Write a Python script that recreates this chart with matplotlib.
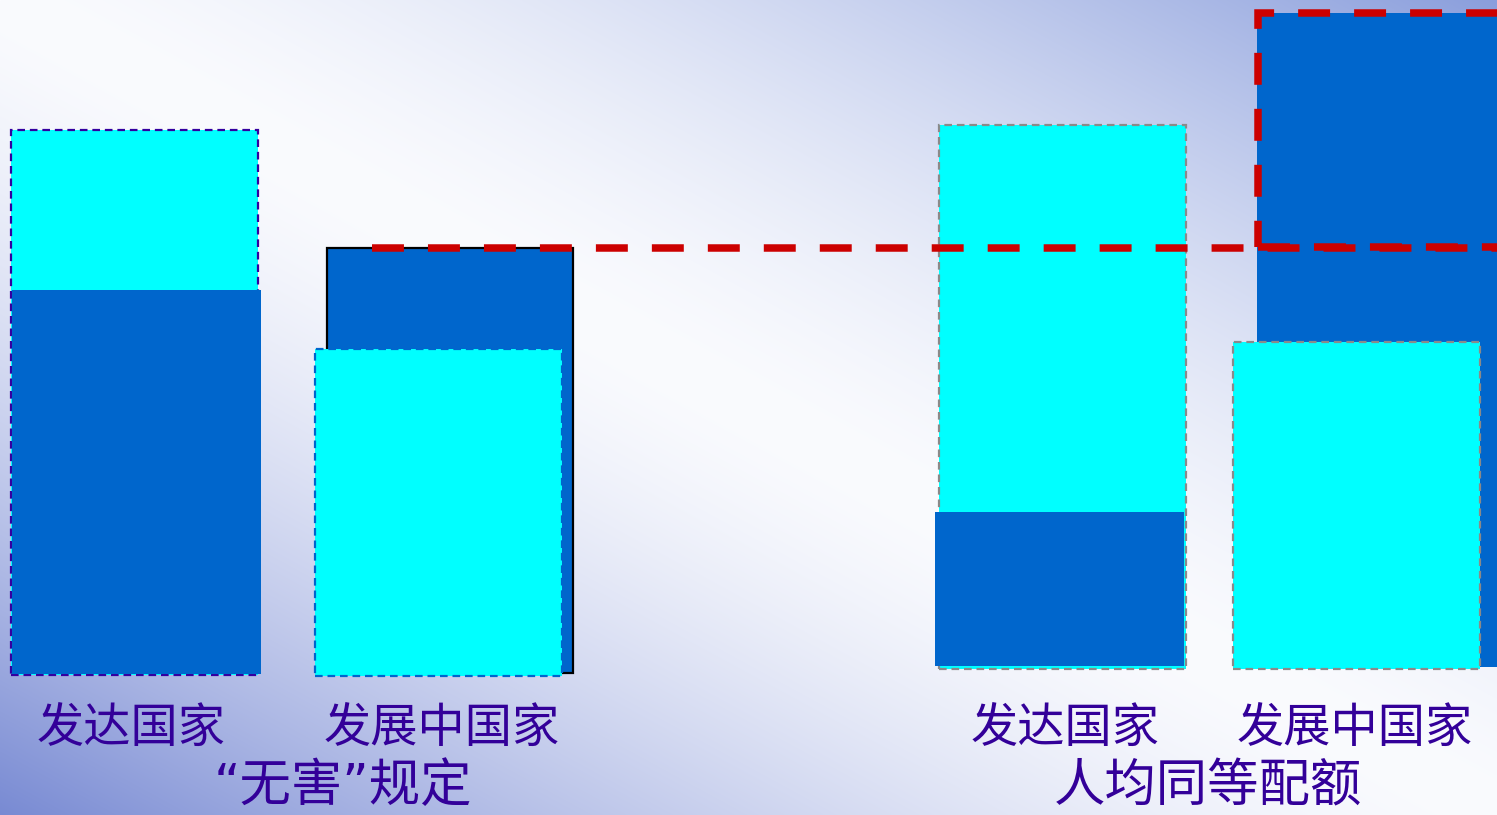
import numpy as np
import matplotlib
matplotlib.use("Agg")
import matplotlib.pyplot as plt
from matplotlib.patches import Rectangle

plt.rcParams["font.family"] = ["Noto Sans CJK SC", "DejaVu Sans"]
plt.rcParams["lines.scale_dashes"] = False

W, H = 1497, 815
BASE = 675  # pixel row of the common baseline

# two allocation schemes, two country groups each
schemes = ["“无害”规定", "人均同等配额"]
countries = ["发达国家", "发展中国家", "发达国家", "发展中国家"]

# emissions (cyan) and allotted quota (blue), heights above the baseline
emis_bottom = [0, -1, 6, 6]
emis_top = [545, 326, 550, 333]
quota_bottom = [1, 2, 9, 8]
quota_top = [385, 427, 163, 662]
equal_level = 427

# layout
emis_x = [11, 315, 939, 1233]
emis_w = 247
quota_x = [12, 327, 935, 1257]
quota_w = [249, 246, 249, 300]
emis_edge = ["#3300a0", "#0066cc", "#8a8a8a", "#8a8a8a"]
quota_edge = [None, "black", None, None]
quota_on_top = [True, False, True, False]
label_x = [131, 442, 1065, 1355]
scheme_x = [343, 1208]

CYAN = "#00ffff"
BLUE = "#0066cc"
RED = "#cc0000"
INK = "#330099"


def background():
    yy, xx = np.mgrid[0:H, 0:W]
    s = xx / W - yy / H
    wt = np.abs(s) ** 1.5
    white = np.array([250, 251, 254]) / 255
    low = np.array([120, 138, 211]) / 255
    high = np.array([138, 158, 220]) / 255
    tint = np.where(s[..., None] < 0, low, high)
    return white + (tint - white) * wt[..., None]


fig = plt.figure(figsize=(W / 100, H / 100), dpi=100)
ax = fig.add_axes([0, 0, 1, 1])
ax.set_xlim(0, W)
ax.set_ylim(BASE - H, BASE)
ax.axis("off")

ax.imshow(background(), extent=(0, W, BASE - H, BASE), aspect="auto", zorder=0)

for i in range(4):
    emis = Rectangle((emis_x[i], emis_bottom[i]), emis_w, emis_top[i] - emis_bottom[i],
                     facecolor=CYAN, edgecolor=emis_edge[i], linewidth=1.6,
                     linestyle=(0, (5.5, 3.5)))
    if quota_edge[i]:
        quota = Rectangle((quota_x[i], quota_bottom[i]), quota_w[i], quota_top[i] - quota_bottom[i],
                          facecolor=BLUE, edgecolor=quota_edge[i], linewidth=1.6)
    else:
        quota = Rectangle((quota_x[i], quota_bottom[i]), quota_w[i], quota_top[i] - quota_bottom[i],
                          facecolor=BLUE, edgecolor="none")
    z_emis, z_quota = (2, 3) if quota_on_top[i] else (3, 2)
    emis.set_zorder(z_emis)
    quota.set_zorder(z_quota)
    ax.add_patch(emis)
    ax.add_patch(quota)
    ax.text(label_x[i], -55, countries[i], color=INK, fontsize=34,
            ha="center", va="center", zorder=5)

# Latin quotes come from DejaVu, the Han characters from Noto
for name, x in zip(schemes, scheme_x):
    ax.text(x, -112, name, color=INK, fontsize=37, ha="center", va="center", zorder=5,
            family=["DejaVu Sans", "Noto Sans CJK SC"])

# equal per-capita level and the surplus of the developing group above it
ax.plot([372, W], [equal_level, equal_level], color=RED, linewidth=5.4,
        linestyle=(0, (23, 17.3)), solid_capstyle="butt", dash_capstyle="butt", zorder=6)
ax.add_patch(Rectangle((quota_x[3] + 1, equal_level + 1), 400, quota_top[3] - equal_level - 1,
                       facecolor="none", edgecolor=RED, linewidth=5.4,
                       linestyle=(0, (23, 17.3)), zorder=6))

fig.savefig("out.png", dpi=100)
